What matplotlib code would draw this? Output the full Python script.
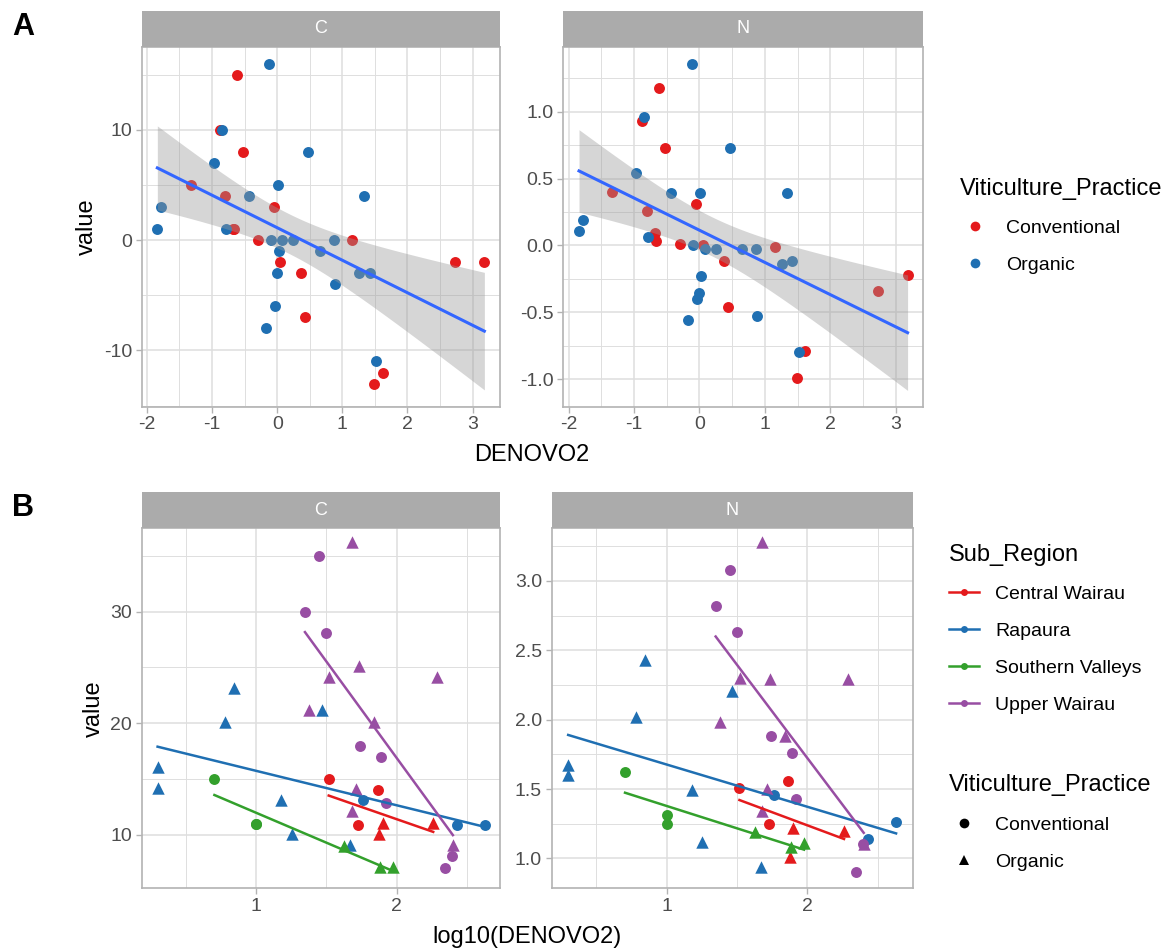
import numpy as np
import matplotlib.pyplot as plt
from matplotlib.lines import Line2D
from matplotlib.ticker import MultipleLocator, FormatStrFormatter

plt.rcParams['font.family'] = ['Liberation Sans', 'DejaVu Sans']
plt.rcParams['axes.unicode_minus'] = False

# ---------------------------------------------------------------------------
# Panel A : value vs DENOVO2, by viticulture practice
# ---------------------------------------------------------------------------
conv_denovo2 = [-0.62, -0.88, -0.53, -1.33, -0.80, -0.68, -0.66, -0.05, -0.29,
                0.05, 0.37, 0.43, 1.15, 2.73, 3.18, 1.62, 1.49]
conv_c = [15, 10, 8, 5, 4, 1, 1, 3, 0, -2, -3, -7, 0, -2, -2, -12, -13]
conv_n = [1.18, 0.93, 0.73, 0.40, 0.26, 0.09, 0.03, 0.31, 0.01, 0.0, -0.12,
          -0.46, -0.01, -0.34, -0.22, -0.79, -0.99]

org_denovo2 = [-0.12, -0.84, -0.97, -1.78, -1.84, -0.78, -0.43, 0.01, 0.47,
               -0.10, 0.08, 0.25, 0.02, -0.01, -0.04, -0.17, 0.65, 0.87, 0.88,
               1.26, 1.42, 1.34, 1.52]
org_c = [16, 10, 7, 3, 1, 1, 4, 5, 8, 0, 0, 0, -1, -3, -6, -8, -1, 0, -4,
         -3, -3, 4, -11]
org_n = [1.36, 0.96, 0.54, 0.19, 0.11, 0.06, 0.39, 0.39, 0.73, 0.0, -0.03,
         -0.03, -0.23, -0.36, -0.40, -0.56, -0.03, -0.03, -0.53, -0.14, -0.12,
         0.39, -0.80]

# ---------------------------------------------------------------------------
# Panel B : value vs log10(DENOVO2), by sub region
# prac: 'C' = Conventional, 'O' = Organic
# ---------------------------------------------------------------------------
cw_x = [1.517, 1.865, 1.727, 1.90, 1.877, 2.26]
cw_c = [15.0, 14.0, 10.9, 11.1, 10.1, 11.1]
cw_n = [1.51, 1.56, 1.25, 1.22, 1.01, 1.20]
cw_prac = ['C', 'C', 'C', 'O', 'O', 'O']

ra_x = [1.763, 2.43, 2.63, 0.30, 0.30, 0.846, 0.78, 1.467, 1.178, 1.254, 1.668]
ra_c = [13.1, 10.9, 10.9, 16.1, 14.2, 23.2, 20.1, 21.2, 13.1, 10.1, 9.1]
ra_n = [1.46, 1.14, 1.26, 1.67, 1.60, 2.43, 2.02, 2.21, 1.49, 1.12, 0.94]
ra_prac = ['C', 'C', 'C', 'O', 'O', 'O', 'O', 'O', 'O', 'O', 'O']

sv_x = [0.704, 1.0, 1.0, 1.628, 1.88, 1.976]
sv_c = [15.0, 11.0, 11.0, 9.0, 7.1, 7.1]
sv_n = [1.62, 1.31, 1.25, 1.19, 1.08, 1.11]
sv_prac = ['C', 'C', 'C', 'O', 'O', 'O']

uw_x = [1.448, 1.348, 1.498, 1.739, 1.889, 1.922, 2.396, 2.344,
        1.68, 1.735, 1.52, 2.29, 1.38, 1.84, 1.71, 1.68, 2.40]
uw_c = [35.0, 30.0, 28.1, 18.0, 17.0, 12.9, 8.1, 7.0,
        36.2, 25.1, 24.1, 24.1, 21.2, 20.1, 14.1, 12.1, 9.1]
uw_n = [3.08, 2.82, 2.63, 1.88, 1.76, 1.43, 1.10, 0.90,
        3.28, 2.29, 2.30, 2.29, 1.98, 1.88, 1.50, 1.34, 1.10]
uw_prac = ['C'] * 8 + ['O'] * 9

region_names = ['Central Wairau', 'Rapaura', 'Southern Valleys', 'Upper Wairau']
region_colors = ['#E41A1C', '#1F6FB2', '#33A02C', '#984EA3']

RED = '#E41A1C'
BLUE = '#1F6FB2'
GRID = '#DEDEDE'
BORDER = '#B3B3B3'
STRIP = '#ABABAB'
TXT = '#4D4D4D'

W, H = 1166, 949
fig = plt.figure(figsize=(W / 100, H / 100), dpi=100)


def box(l, t, r, b):
    return [l / W, 1 - b / H, (r - l) / W, (b - t) / H]


def style(ax, xlim, ylim, xmaj, ymaj, yfmt):
    ax.set_xlim(*xlim)
    ax.set_ylim(*ylim)
    ax.xaxis.set_major_locator(MultipleLocator(xmaj))
    ax.xaxis.set_minor_locator(MultipleLocator(xmaj / 2))
    ax.yaxis.set_major_locator(MultipleLocator(ymaj))
    ax.yaxis.set_minor_locator(MultipleLocator(ymaj / 2))
    ax.yaxis.set_major_formatter(FormatStrFormatter(yfmt))
    ax.xaxis.set_major_formatter(FormatStrFormatter('%d'))
    ax.grid(which='major', color=GRID, lw=1.1, zorder=0)
    ax.grid(which='minor', color=GRID, lw=0.7, zorder=0)
    ax.set_axisbelow(True)
    for s in ax.spines.values():
        s.set_color(BORDER)
        s.set_linewidth(1.2)
    ax.tick_params(which='major', length=4, width=1, color=BORDER,
                   labelsize=14, labelcolor=TXT, pad=3)
    ax.tick_params(which='minor', length=0)


def strip(l, t, r, b, label):
    sa = fig.add_axes(box(l, t, r, b))
    sa.set_facecolor(STRIP)
    sa.set_xticks([])
    sa.set_yticks([])
    for s in sa.spines.values():
        s.set_visible(False)
    sa.text(0.5, 0.5, label, color='white', fontsize=13,
            ha='center', va='center', transform=sa.transAxes)


def smooth_ci(ax, x, y):
    x = np.asarray(x, float)
    y = np.asarray(y, float)
    n = len(x)
    b, a = np.polyfit(x, y, 1)
    resid = y - (a + b * x)
    s = np.sqrt(np.sum(resid ** 2) / (n - 2))
    sxx = np.sum((x - x.mean()) ** 2)
    xs = np.linspace(x.min(), x.max(), 80)
    fit = a + b * xs
    se = s * np.sqrt(1 / n + (xs - x.mean()) ** 2 / sxx)
    t = 2.024  # t(0.975, df=38)
    ax.fill_between(xs, fit - t * se, fit + t * se, color='#999999',
                    alpha=0.4, lw=0, zorder=3)
    ax.plot(xs, fit, color='#3366FF', lw=2.2, zorder=4)


# ---- Panel A
panels_a = [
    ((141.7, 46.7, 500, 406.7), 'C', conv_c, org_c, (-15.1, 17.55), 10, '%d'),
    ((563.3, 46.7, 923.3, 406.7), 'N', conv_n, org_n, (-1.207, 1.486), 0.5, '%.1f'),
]
for (l, t, r, b), lab, yc, yo, ylim, ymaj, yfmt in panels_a:
    ax = fig.add_axes(box(l, t, r, b))
    strip(l, 11, r, t, lab)
    style(ax, (-2.08, 3.42), ylim, 1, ymaj, yfmt)
    ax.scatter(conv_denovo2, yc, s=62, color=RED, lw=0, zorder=2)
    ax.scatter(org_denovo2, yo, s=62, color=BLUE, lw=0, zorder=2)
    smooth_ci(ax, conv_denovo2 + org_denovo2, yc + yo)
    if lab == 'C':
        ax.set_ylabel('value', fontsize=17, color='black', labelpad=4)

fig.text(532 / W, 1 - 455 / H, 'DENOVO2', fontsize=17, ha='center', va='center')

# ---- Panel B
regions = [
    (cw_x, cw_c, cw_n, cw_prac),
    (ra_x, ra_c, ra_n, ra_prac),
    (sv_x, sv_c, sv_n, sv_prac),
    (uw_x, uw_c, uw_n, uw_prac),
]
panels_b = [
    ((141.7, 528.3, 500, 888.3), 'C', 1, (0.187, 2.735), (5.22, 37.46), 10, '%d'),
    ((551.7, 528.3, 912.7, 888.3), 'N', 2, (0.183, 2.748), (0.784, 3.38), 0.5, '%.1f'),
]
for (l, t, r, b), lab, col, xlim, ylim, ymaj, yfmt in panels_b:
    ax = fig.add_axes(box(l, t, r, b))
    strip(l, 492, r, t, lab)
    style(ax, xlim, ylim, 1, ymaj, yfmt)
    for reg, color in zip(regions, region_colors):
        xs = np.array(reg[0])
        ys = np.array(reg[col])
        prac = np.array(reg[3])
        c_mask = prac == 'C'
        ax.scatter(xs[c_mask], ys[c_mask], s=62, marker='o', color=color,
                   lw=0, zorder=2)
        ax.scatter(xs[~c_mask], ys[~c_mask], s=80, marker='^', color=color,
                   lw=0, zorder=2)
        bb, aa = np.polyfit(xs, ys, 1)
        xl = np.linspace(xs.min(), xs.max(), 20)
        ax.plot(xl, aa + bb * xl, color=color, lw=1.8, zorder=3)
    if lab == 'C':
        ax.set_ylabel('value', fontsize=17, color='black', labelpad=4)

fig.text(527 / W, 1 - 937 / H, 'log10(DENOVO2)', fontsize=17,
         ha='center', va='center')

# panel letters
fig.text(23 / W, 1 - 27 / H, 'A', fontsize=22, fontweight='bold',
         ha='center', va='center')
fig.text(23 / W, 1 - 508 / H, 'B', fontsize=22, fontweight='bold',
         ha='center', va='center')

# ---- Legends
leg_kw = dict(frameon=False, fontsize=14, title_fontsize=17, labelspacing=1.0,
              handlelength=1.55, handletextpad=0.85, alignment='left')

fig.legend(
    handles=[Line2D([], [], ls='', marker='o', ms=7, color=RED, mew=0),
             Line2D([], [], ls='', marker='o', ms=7, color=BLUE, mew=0)],
    labels=['Conventional', 'Organic'], title='Viticulture_Practice',
    loc='center left', bbox_to_anchor=(942 / W, 1 - 226 / H), **leg_kw)

fig.legend(
    handles=[Line2D([], [], color=c, lw=1.8, marker='o', ms=5, mew=0)
             for c in region_colors],
    labels=region_names, title='Sub_Region',
    loc='upper left', bbox_to_anchor=(931 / W, 1 - 526 / H), **leg_kw)

fig.legend(
    handles=[Line2D([], [], ls='', marker='o', ms=7, color='black', mew=0),
             Line2D([], [], ls='', marker='^', ms=7, color='black', mew=0)],
    labels=['Conventional', 'Organic'], title='Viticulture_Practice',
    loc='upper left', bbox_to_anchor=(931 / W, 1 - 757 / H), **leg_kw)

fig.savefig('out.png', dpi=100, facecolor='white')
